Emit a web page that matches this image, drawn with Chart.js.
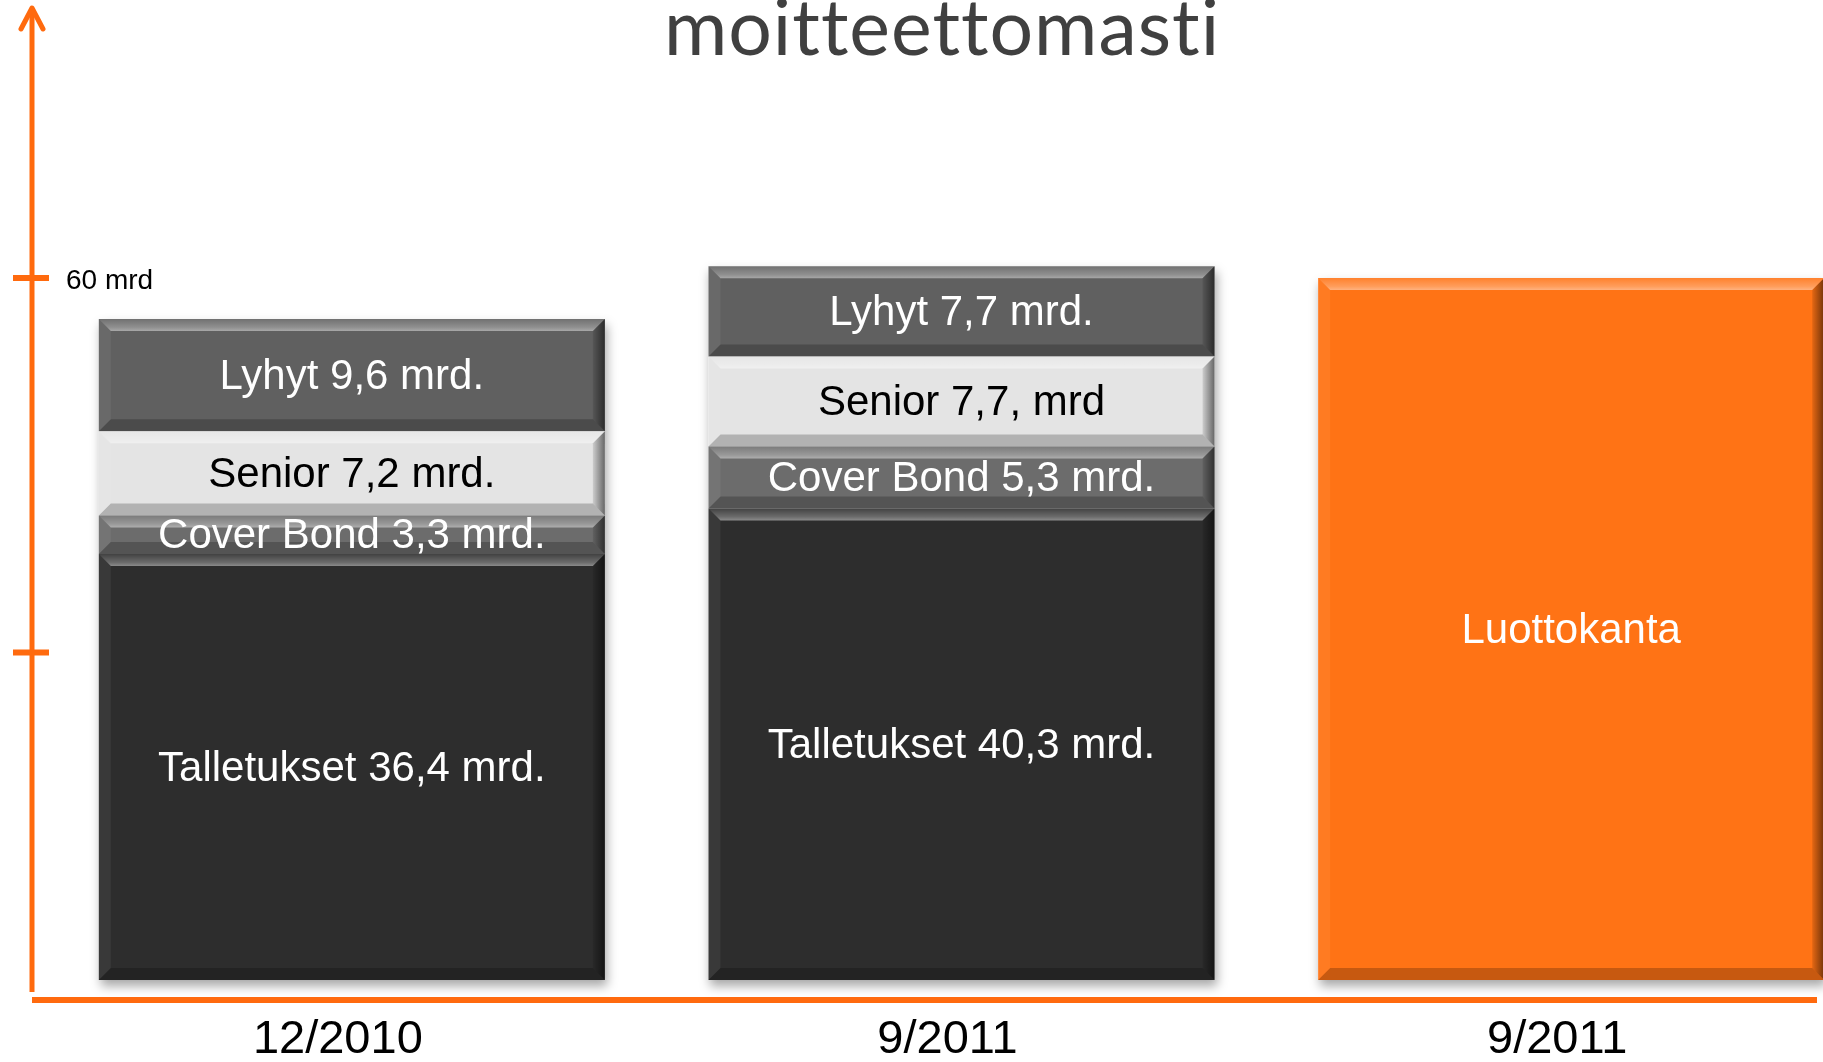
<!DOCTYPE html>
<html>
<head>
<meta charset="utf-8">
<script src="https://cdn.jsdelivr.net/npm/chart.js@4.4.1/dist/chart.umd.min.js"></script>
<style>
  html, body { margin: 0; padding: 0; background: #fff; overflow: hidden; }
  #wrap { width: 1880px; height: 1062px; position: relative; }
</style>
</head>
<body>
<div id="wrap"><canvas id="rahoitusChart"></canvas></div>
<script>
// Kaudet (x-akseli)
const kaudet = ["12/2010", "9/2011", "9/2011"];

// Rahoituslähteet, mrd. euroa
const talletukset = [36.4, 40.3, null];
const coverBond = [3.3, 5.3, null];
const senior = [7.2, 7.7, null];
const lyhyt = [9.6, 7.7, null];
const luottokanta = [null, null, 60];

// Tekstit palkkien sisällä
const talletuksetTekstit = ["Talletukset 36,4 mrd.", "Talletukset 40,3 mrd.", ""];
const coverBondTekstit = ["Cover Bond 3,3 mrd.", "Cover Bond 5,3 mrd.", ""];
const seniorTekstit = ["Senior 7,2 mrd.", "Senior 7,7, mrd", ""];
const lyhytTekstit = ["Lyhyt 9,6 mrd.", "Lyhyt 7,7 mrd.", ""];
const luottokantaTekstit = ["", "", "Luottokanta"];

// Y-akselin merkit
const yTicks = [28, 60];
const yTickTekstit = ["", "60 mrd"];

const otsikko = "moitteettomasti";
const oranssi = "#ff6a0e";

// Varjo palkkien alle
const varjoPlugin = {
  id: "varjo",
  beforeDatasetsDraw(chart) {
    const ctx = chart.ctx;
    const n = chart.data.labels.length;
    for (let i = 0; i < n; i++) {
      let top = Infinity, bot = -Infinity, left = 0, right = 0;
      chart.data.datasets.forEach((ds, di) => {
        const el = chart.getDatasetMeta(di).data[i];
        if (!el || ds.data[i] == null) return;
        const p = el.getProps(["x", "y", "base", "width"], true);
        top = Math.min(top, p.y, p.base);
        bot = Math.max(bot, p.y, p.base);
        left = p.x - p.width / 2;
        right = p.x + p.width / 2;
      });
      if (top === Infinity) continue;
      ctx.save();
      ctx.shadowColor = "rgba(0,0,0,0.35)";
      ctx.shadowBlur = 10;
      ctx.shadowOffsetX = 2;
      ctx.shadowOffsetY = 6;
      ctx.fillStyle = "#fff";
      ctx.fillRect(left, top, right - left, bot - top);
      ctx.restore();
    }
  }
};

// Viistetyt reunat + tekstit
const viistePlugin = {
  id: "viiste",
  afterDatasetsDraw(chart) {
    const ctx = chart.ctx;
    const b = 12;
    chart.data.datasets.forEach((ds, di) => {
      chart.getDatasetMeta(di).data.forEach((el, i) => {
        if (ds.data[i] == null) return;
        const p = el.getProps(["x", "y", "base", "width"], true);
        const l = p.x - p.width / 2, r = p.x + p.width / 2;
        const t = Math.min(p.y, p.base), bt = Math.max(p.y, p.base);
        const bb = Math.min(b, (bt - t) / 3);
        ctx.save();
        // ylä
        let g = ctx.createLinearGradient(0, t, 0, t + bb);
        g.addColorStop(0, "rgba(255,255,255,0.10)");
        g.addColorStop(0.7, "rgba(255,255,255,0.30)");
        g.addColorStop(1, "rgba(255,255,255,0.45)");
        ctx.fillStyle = g;
        ctx.beginPath();
        ctx.moveTo(l, t); ctx.lineTo(r, t); ctx.lineTo(r - bb, t + bb); ctx.lineTo(l + bb, t + bb);
        ctx.closePath(); ctx.fill();
        // ala
        ctx.fillStyle = "rgba(0,0,0,0.22)";
        ctx.beginPath();
        ctx.moveTo(l, bt); ctx.lineTo(r, bt); ctx.lineTo(r - bb, bt - bb); ctx.lineTo(l + bb, bt - bb);
        ctx.closePath(); ctx.fill();
        // oikea
        g = ctx.createLinearGradient(r - bb, 0, r, 0);
        g.addColorStop(0, "rgba(0,0,0,0.10)");
        g.addColorStop(1, "rgba(0,0,0,0.55)");
        ctx.fillStyle = g;
        ctx.beginPath();
        ctx.moveTo(r, t); ctx.lineTo(r, bt); ctx.lineTo(r - bb, bt - bb); ctx.lineTo(r - bb, t + bb);
        ctx.closePath(); ctx.fill();
        // vasen
        ctx.fillStyle = "rgba(255,255,255,0.06)";
        ctx.beginPath();
        ctx.moveTo(l, t); ctx.lineTo(l, bt); ctx.lineTo(l + bb, bt - bb); ctx.lineTo(l + bb, t + bb);
        ctx.closePath(); ctx.fill();
        ctx.restore();

        // teksti
        const teksti = ds.tekstit[i];
        if (teksti) {
          ctx.save();
          ctx.font = "42px 'Liberation Sans', Arial, sans-serif";
          ctx.fillStyle = ds.tekstiVari;
          ctx.textAlign = "center";
          ctx.textBaseline = "middle";
          ctx.fillText(teksti, p.x, (t + bt) / 2 + 2);
          ctx.restore();
        }
      });
    });
  }
};

// Akselit, otsikko ja kausitekstit
const akseliPlugin = {
  id: "akselit",
  afterDraw(chart) {
    const ctx = chart.ctx;
    const ys = chart.scales.y, xs = chart.scales.x;
    ctx.save();
    ctx.strokeStyle = oranssi;
    ctx.lineCap = "butt";
    // pystyakseli
    ctx.lineWidth = 5;
    ctx.beginPath();
    ctx.moveTo(32, 992); ctx.lineTo(32, 9);
    ctx.stroke();
    ctx.lineCap = "round";
    ctx.lineJoin = "round";
    ctx.beginPath();
    ctx.moveTo(21, 29); ctx.lineTo(32, 8); ctx.lineTo(43, 29);
    ctx.stroke();
    // merkit
    ctx.lineCap = "butt";
    ctx.lineWidth = 6;
    yTicks.forEach((v, i) => {
      const py = ys.getPixelForValue(v);
      ctx.beginPath();
      ctx.moveTo(13, py); ctx.lineTo(49, py);
      ctx.stroke();
      if (yTickTekstit[i]) {
        ctx.fillStyle = "#000";
        ctx.font = "28px 'Liberation Sans', Arial, sans-serif";
        ctx.textAlign = "left";
        ctx.textBaseline = "middle";
        ctx.fillText(yTickTekstit[i], 66, py + 3);
      }
    });
    // vaaka-akseli
    ctx.lineWidth = 6;
    ctx.beginPath();
    ctx.moveTo(32, 1000); ctx.lineTo(1817, 1000);
    ctx.stroke();
    // kaudet
    ctx.fillStyle = "#000";
    ctx.font = "47px 'Liberation Sans', Arial, sans-serif";
    ctx.textAlign = "center";
    ctx.textBaseline = "middle";
    kaudet.forEach((k, i) => {
      ctx.fillText(k, xs.getPixelForValue(i) - 14, 1040);
    });
    // otsikko (ilman ligatuureja)
    ctx.fillStyle = "#404040";
    ctx.font = "77px Lato, 'Open Sans', sans-serif";
    ctx.letterSpacing = "1px";
    ctx.textAlign = "center";
    ctx.textBaseline = "alphabetic";
    ctx.fillText(otsikko, 942, 55);
    ctx.restore();
  }
};

const ctx = document.getElementById("rahoitusChart").getContext("2d");

const myChart = new Chart(ctx, {
  type: "bar",
  data: {
    labels: kaudet,
    datasets: [
      { label: "Talletukset", data: talletukset, backgroundColor: "#2d2d2d", tekstit: talletuksetTekstit, tekstiVari: "#ffffff" },
      { label: "Cover Bond", data: coverBond, backgroundColor: "#6c6c6c", tekstit: coverBondTekstit, tekstiVari: "#ffffff" },
      { label: "Senior", data: senior, backgroundColor: "#e4e4e4", tekstit: seniorTekstit, tekstiVari: "#000000" },
      { label: "Lyhyt", data: lyhyt, backgroundColor: "#606060", tekstit: lyhytTekstit, tekstiVari: "#ffffff" },
      { label: "Luottokanta", data: luottokanta, backgroundColor: "#ff7315", tekstit: luottokantaTekstit, tekstiVari: "#ffffff" },
    ],
  },
  options: {
    responsive: true,
    maintainAspectRatio: false,
    animation: false,
    layout: { padding: { top: 161, bottom: 82, left: 47, right: 4 } },
    datasets: { bar: { categoryPercentage: 1, barPercentage: 0.83, borderWidth: 0 } },
    plugins: { legend: { display: false }, tooltip: { enabled: false } },
    scales: {
      x: { stacked: true, display: false },
      y: { stacked: true, display: false, min: 0, max: 70 },
    },
  },
  plugins: [varjoPlugin, viistePlugin, akseliPlugin],
});
</script>
</body>
</html>
